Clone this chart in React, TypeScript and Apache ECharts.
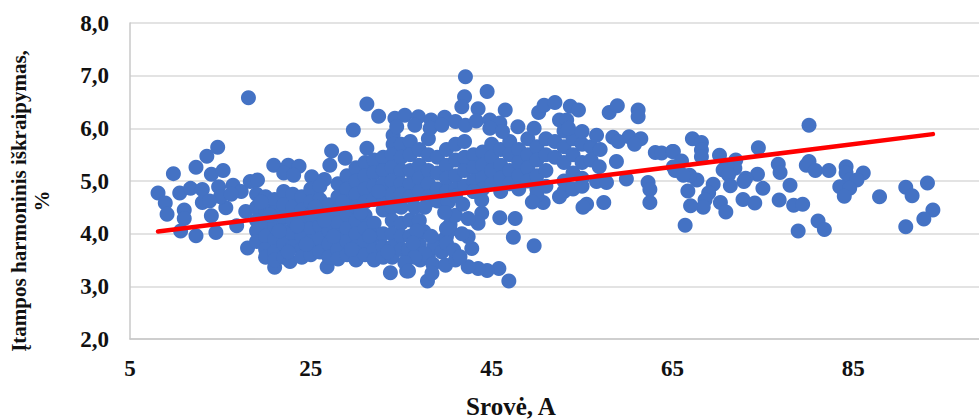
import React, { useEffect, useRef } from "react";
import * as echarts from "echarts";

const xTickLabels = [5, 25, 45, 65, 85];
const trendLine = [[8.1, 4.04], [93.8, 5.89]];

const leftPoints = [
  [18.1,6.58],[8.1,4.77],[8.9,4.58],[9.1,4.37],[9.8,5.14],[10.5,4.77],[11.7,4.86],[13,4.84],[12.3,5.26],[13.5,5.47],
  [14.7,5.64],[14,5.13],[15.3,5.2],[11,4.45],[11,4.29],[10.6,4.05],[12.3,3.96],[14.5,4.02],[13,4.59],[14,4.34],
  [15.6,4.49],[14.8,4.89],[15,4.7],[16.4,4.92],[17.3,4.8],[18.3,4.99],[19.1,5.02],[18,3.73],[16.8,4.15],[17.8,4.42],
  [21,3.36],[20.9,5.3],[22.5,5.3],[23.7,5.28],[22,5.15],[23.1,5.11],[25.1,5.08],[26.5,5.03],[27.1,5.3],[27.3,5.57],
  [28.8,5.43],[29.7,5.97],[31.2,6.46],[32.5,6.23],[31.2,5.62],[33.8,3.26],[35.6,3.29],[34.3,6.19],[34.1,5.87],[35.4,6.25],
  [34.5,6.03],[34.1,5.7],[16.2,4.75],[13.8,4.62],
];

const denseLow = [
  [19,4.75],[19,4.5],[19,4.25],[19,4.05],[19,3.85],[20,4.7],[20,4.45],[20,4.2],[20,3.95],[20,3.7],[20,3.55],
  [21,4.65],[21,4.4],[21,4.15],[21,3.9],[21,3.65],[21,3.5],[22,4.8],[22,4.55],[22,4.3],[22,4.05],[22,3.8],[22,3.55],
  [23,4.75],[23,4.5],[23,4.25],[23,4],[23,3.75],[22.7,3.47],[24,4.7],[24,4.45],[24,4.2],[24,3.95],[24,3.7],[24,3.55],
  [25,4.85],[25,4.6],[25,4.35],[25,4.1],[25,3.85],[25,3.6],[26,4.9],[26,4.65],[26,4.4],[26,4.15],[26,3.9],[26,3.65],[26.8,3.37],
  [27,4.55],[27,4.3],[27,4.05],[27,3.8],[27,3.55],[28,4.95],[28,4.7],[28,4.45],[28,4.2],[28,3.95],[28,3.7],[28,3.52],
  [29,5.1],[29,4.85],[29,4.6],[29,4.35],[29,4.1],[29,3.85],[29,3.6],[30,5.25],[30,5],[30,4.75],[30,4.5],[30,4.25],[30,4],[30,3.75],[30,3.5],
  [31,5.35],[31,5.1],[31,4.85],[31,4.6],[31,4.35],[31,4.1],[31,3.85],[31,3.6],[32,5.4],[32,5.15],[32,4.9],[32,4.65],[32,4.2],[32,3.95],[32,3.7],[32,3.5],
  [33,5.45],[33,5.2],[33,4.95],[33,4.7],[33,4.45],[33,4],[33,3.75],[33,3.55],[34,5.5],[34,5.25],[34,5],[34,4.75],[34,4.5],[34,4.25],[34,4],[34,3.75],[34,3.55],
  [35,5.7],[35,5.45],[35,5.2],[35,4.95],[35,4.75],[35,4.5],[35,4.2],[35,3.95],[35,3.7],
  [19.5,4.6],[20.5,4.35],[21.5,4.05],[22.5,3.65],[23.5,4.15],[24.5,3.8],[25.5,4.5],[26.5,4.25],[27.5,3.95],[28.5,4.6],[29.5,3.7],[30.5,4.4],[31.5,3.95],[32.5,4.8],[33.5,3.65],
];

const denseMiddle = [
  [36,5.75],[36,5.5],[36,5.2],[36,4.95],[36,4.7],[36,4.26],[36,3.95],[35.8,3.69],[37,5.6],[37,5.3],[37,5.05],[37,4.8],[37.1,3.5],[37,3.8],[37.5,4.04],
  [38,5.8],[38,5.5],[38,5.2],[38,4.95],[38,4.7],[38,3.56],[39,5.45],[39,5.15],[39,4.85],[39.3,3.85],[38.6,3.75],[40,5.6],[40,5.3],[40,5.05],[40,4.8],[40,3.94],
  [41,5.7],[41,5.4],[41,5.1],[41,4.85],[40.4,4.17],[40.4,4.07],[42,5.75],[42,5.45],[42,5.2],[42,4.9],[43,5.5],[43,5.25],[43,5],[43,4.8],[44,5.55],[44,5.3],[44,5.05],[44,4.85],
  [45,5.7],[45,5.45],[45,5.2],[45,4.95],[46,5.6],[46,5.3],[46,5.05],[46,4.8],[47,5.75],[47,5.5],[47,5.2],[47,4.95],[48,5.6],[48,5.35],[48,5.1],[48,4.85],
  [49,5.8],[49,5.5],[49,5.25],[49,5],[50,5.65],[50,5.4],[50,5.1],[50,4.85],[51,5.8],[51,5.5],[51,5.2],[51,4.9],[52,5.75],[52,5.45],[53,5.95],[53,5.65],[53,5.35],[53,5],[53,4.8],
  [54,5.8],[54,5.5],[54,5.15],[54,4.85],[55,5.7],[55,5.35],[55,5.05],[56,5.65],[56,5.4],[57,5.6],
  [36.5,4.5],[37,4.25],[36.7,4.05],[38,4.62],[39,4.62],[40.2,4.6],[41,4.35],[41,4.72],[37.6,3.62],[38.5,3.42],[39.5,3.65],[40,3.82],[36.5,3.55],[36.3,3.82],[38.3,3.95],[37.6,4.5],[39.8,4.4],[35.4,3.45],
];

const rightOfBlob = [
  [42.1,6.98],[44.5,6.7],[42,6.6],[41.7,6.41],[43.5,6.37],[46.5,6.35],[36.9,6.22],[38.3,6.16],[39.8,6.21],[36.5,6.06],
  [38.2,6],[39.5,6.06],[41,6.13],[42.1,6.06],[43.3,6.14],[44.8,6.16],[45.9,6.1],[44.8,6],[46.2,5.94],[47.9,6.03],
  [49.7,6],[50.2,6.3],[50.8,6.44],[52,6.49],[53.7,6.42],[54.6,6.35],[52.5,6.16],[53.3,6.16],[53.5,6],[55,5.94],
  [56.6,5.87],[58,6.3],[58.9,6.43],[61.2,6.35],[61.2,6.22],[58.4,5.83],[60.2,5.84],[61.5,5.8],[60.8,5.7],[59,5.75],
  [63.1,5.54],[63.8,5.53],[65,5.56],[56.9,5.27],[58.8,5.37],[56.6,4.99],[57.7,4.97],[59.9,5.04],[62.3,4.97],[62.5,4.84],
  [62.5,4.59],[57.4,4.59],[55.5,4.56],[55.1,4.5],[50.7,4.59],[50,4.73],[47.6,4.29],[45.9,4.3],[47.4,3.93],[49.7,3.77],
  [46.9,3.1],[45.8,3.34],[44.5,3.3],[43.5,3.34],[42.4,3.37],[35.8,3.29],[37.9,3.1],[38.4,3.25],[43.9,4.39],[43.5,4.2],
  [42.4,4.29],[43.9,4.64],[41.8,4.56],[42.8,3.72],[42.4,3.94],[41.7,4],[39.9,3.4],[41,3.5],[40.8,3.69],[41.5,3.56],
  [40,4.1],[43,4.8],[52.5,4.7],[55,4.9],[49.5,4.6],
];

const tailPoints = [
  [80.1,6.06],[67.2,5.8],[68.2,5.73],[68.2,5.59],[68.2,5.46],[65.1,5.56],[66,5.38],[65.1,5.27],[65.3,5.2],[70.2,5.49],
  [72,5.4],[74.5,5.63],[71.9,5.24],[71,5.3],[70.6,5.21],[71.2,5.12],[76.7,5.32],[76.9,5.16],[74.4,5.13],[73.1,5.05],
  [72.9,4.99],[71.4,4.91],[69.5,4.94],[67.7,5.02],[66.9,5.11],[66.2,5.11],[75,4.86],[78,4.92],[66.7,4.81],[69,4.77],
  [68.6,4.64],[68.4,4.5],[67,4.53],[70.3,4.59],[70.9,4.41],[72.8,4.65],[74.1,4.58],[76.8,4.64],[78.4,4.54],[79.4,4.56],
  [66.4,4.16],[78.9,4.05],[81.1,4.24],[81.8,4.08],[80.1,5.37],[79.8,5.3],[80.8,5.2],[82.3,5.2],[84.2,5.27],[84.2,5.15],
  [86.1,5.15],[84.6,5.02],[85.4,5.02],[83.5,4.89],[84.6,4.86],[84,4.71],[87.9,4.7],[90.8,4.88],[91.5,4.72],[93.2,4.96],
  [93.8,4.45],[92.8,4.28],[90.8,4.13],
];

const serif = "'Liberation Serif', 'Times New Roman', serif";
const gridColor = "#DADADA";
const ink = "#111111";

export default function App() {
  const ref = useRef<HTMLDivElement>(null);
  useEffect(() => {
    document.body.style.margin = "0";
    const chart = echarts.init(ref.current!, undefined, { renderer: "svg" });
    chart.setOption({
      animation: false,
      backgroundColor: "#fff",
      grid: { left: 130, top: 23, width: 849, height: 316, containLabel: false },
      xAxis: {
        type: "value",
        min: 5,
        max: 98.9,
        axisLine: { show: true, lineStyle: { color: "#C8C8C8", width: 1.5 } },
        axisTick: { show: false },
        splitLine: { show: false },
        axisLabel: {
          customValues: xTickLabels,
          margin: 18,
          fontFamily: serif,
          fontSize: 23,
          fontWeight: "bold",
          color: ink,
          hideOverlap: false,
          showMinLabel: true,
        },
      },
      yAxis: {
        type: "value",
        min: 2,
        max: 8,
        interval: 1,
        axisLine: { show: true, lineStyle: { color: "#C8C8C8", width: 1.5 } },
        axisTick: { show: false },
        splitLine: { show: true, lineStyle: { color: gridColor, width: 1.5 } },
        axisLabel: {
          margin: 21,
          fontFamily: serif,
          fontSize: 23,
          fontWeight: "bold",
          color: ink,
          formatter: (v: number) => v.toFixed(1).replace(".", ","),
        },
      },
      graphic: [
        {
          type: "text",
          x: 30,
          y: 201,
          rotation: Math.PI / 2,
          style: {
            text: "Įtampos harmoninis iškraipymas,\n%",
            font: `bold 21px ${serif}`,
            fill: ink,
            align: "center",
            verticalAlign: "middle",
            lineHeight: 23,
          },
        },
        {
          type: "text",
          x: 511,
          y: 406,
          style: {
            text: "Srovė, A",
            font: `bold 25px ${serif}`,
            fill: ink,
            align: "center",
            verticalAlign: "middle",
          },
        },
      ],
      series: [
        {
          type: "scatter",
          symbol: "circle",
          symbolSize: 15,
          itemStyle: { color: "#4472C4", opacity: 1 },
          data: [...leftPoints, ...denseLow, ...denseMiddle, ...rightOfBlob, ...tailPoints],
          z: 2,
        },
        {
          type: "line",
          data: trendLine,
          symbol: "none",
          lineStyle: { color: "#FF0000", width: 4.5, cap: "round" },
          z: 3,
        },
      ],
    });
    return () => chart.dispose();
  }, []);
  return <div ref={ref} style={{ width: 979, height: 419 }} />;
}
